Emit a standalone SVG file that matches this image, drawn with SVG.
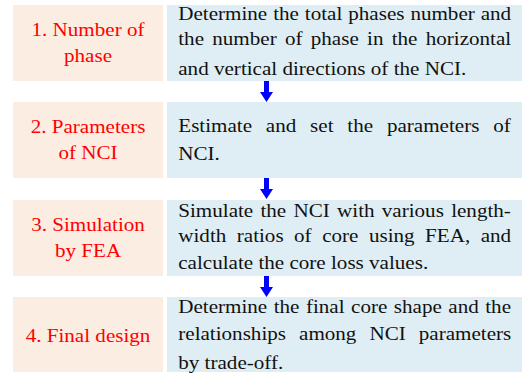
<svg xmlns="http://www.w3.org/2000/svg" width="526" height="375" viewBox="0 0 526 375" font-family="'Liberation Serif', 'Times New Roman', serif">
  <style>
    .step { fill: #FCEDE3; }
    .desc { fill: #DFEEF4; }
    .lbl { font-family: 'Liberation Serif', 'Times New Roman', serif; font-size: 19px; fill: #FF0000; text-anchor: middle; }
    .txt { font-family: 'Liberation Serif', 'Times New Roman', serif; font-size: 19px; fill: #111111; }
    .arrow { fill: #0000FF; }
  </style>
  <defs>
    <!-- downward block arrow, origin at top centre of the shaft -->
    <path id="down" d="M -2.5 0 H 2.5 V 11 H 6.5 L 0 21 L -6.5 11 H -2.5 Z"/>
  </defs>
  <rect width="526" height="375" fill="#FFFFFF"/>

  <g id="step1">
    <rect class="step" x="13" y="5" width="150" height="76"/>
    <rect class="desc" x="167" y="5" width="355" height="76"/>
    <g transform="matrix(1.11 0 0 1 0 0)">
      <text class="lbl" x="79.3" y="36">1. Number of</text>
      <text class="lbl" x="79.3" y="61.7">phase</text>
      <text class="txt" x="160.6" y="20" word-spacing="0.6">Determine the total phases number and</text>
      <text class="txt" x="160.6" y="45.3" word-spacing="2.7">the number of phase in the horizontal</text>
      <text class="txt" x="160.6" y="75">and vertical directions of the NCI.</text>
    </g>
  </g>

  <g id="step2">
    <rect class="step" x="13" y="102" width="150" height="76"/>
    <rect class="desc" x="167" y="102" width="355" height="76"/>
    <g transform="matrix(1.11 0 0 1 0 0)">
      <text class="lbl" x="79.3" y="133.3">2. Parameters</text>
      <text class="lbl" x="79.3" y="159.3">of NCI</text>
      <text class="txt" x="160.6" y="132.3" word-spacing="7.7">Estimate and set the parameters of</text>
      <text class="txt" x="160.6" y="160">NCI.</text>
    </g>
  </g>

  <g id="step3">
    <rect class="step" x="13" y="200" width="150" height="76"/>
    <rect class="desc" x="167" y="200" width="355" height="76"/>
    <g transform="matrix(1.11 0 0 1 0 0)">
      <text class="lbl" x="79.3" y="230.7">3. Simulation</text>
      <text class="lbl" x="79.3" y="256.7">by FEA</text>
      <text class="txt" x="160.6" y="216.7" word-spacing="1.8">Simulate the NCI with various length-</text>
      <text class="txt" x="160.6" y="241.7" word-spacing="4.7">width ratios of core using FEA, and</text>
      <text class="txt" x="160.6" y="269">calculate the core loss values.</text>
    </g>
  </g>

  <g id="step4">
    <rect class="step" x="13" y="297" width="150" height="75"/>
    <rect class="desc" x="167" y="297" width="355" height="75"/>
    <g transform="matrix(1.11 0 0 1 0 0)">
      <text class="lbl" x="79.3" y="341.7">4. Final design</text>
      <text class="txt" x="160.6" y="313" word-spacing="1.1">Determine the final core shape and the</text>
      <text class="txt" x="160.6" y="340" word-spacing="7">relationships among NCI parameters</text>
      <text class="txt" x="160.6" y="369">by trade-off.</text>
    </g>
  </g>

  <g id="connectors" class="arrow">
    <use href="#down" x="266.5" y="81"/>
    <use href="#down" x="266.5" y="178"/>
    <use href="#down" x="266.5" y="276"/>
  </g>
</svg>
